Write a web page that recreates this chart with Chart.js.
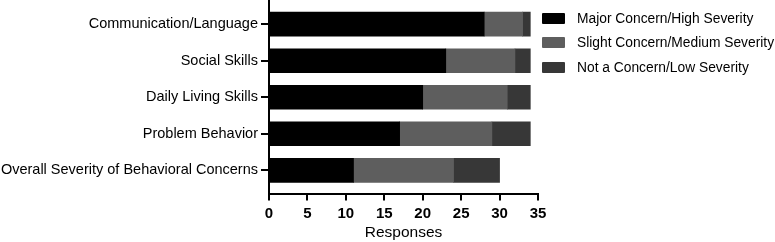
<!DOCTYPE html>
<html>
<head>
<meta charset="utf-8">
<script src="https://cdn.jsdelivr.net/npm/chart.js@4"></script>
<style>
  body { margin: 0; background: #fff; font-family: "Liberation Sans", Arial, sans-serif; }
  #wrap { position: relative; width: 775px; height: 242px; }
  #box { position: absolute; left: 0; top: 0; width: 560px; height: 242px; }
  #legend { position: absolute; left: 542px; top: 6px; }
  .item { display: flex; align-items: center; height: 24.5px; font-size: 13.8px; color: #000; white-space: nowrap; }
  .sw { width: 23px; height: 11px; margin-right: 12px; border-radius: 1px; }
</style>
</head>
<body>
<div id="wrap">
  <div id="box"><canvas id="chart"></canvas></div>
  <div id="legend"></div>
</div>
<script>
// categories, top to bottom
const categories = [
    'Communication/Language',
    'Social Skills',
    'Daily Living Skills',
    'Problem Behavior',
    'Overall Severity of Behavioral Concerns'
];
const seriesNames = ['Major Concern/High Severity', 'Slight Concern/Medium Severity', 'Not a Concern/Low Severity'];
const seriesColors = ['#000000', '#5e5e5e', '#373737'];

const majorHigh = [28, 23, 20, 17, 11];
const slightMedium = [5, 9, 11, 12, 13];
const notLow = [1, 2, 3, 5, 6];

const xTicks = [0, 5, 10, 15, 20, 25, 30, 35];

const allSeries = [majorHigh, slightMedium, notLow];

// html legend
const legendEl = document.getElementById('legend');
seriesNames.forEach(function(name, i) {
    const row = document.createElement('div');
    row.className = 'item';
    row.innerHTML = '<span class="sw" style="background:' + seriesColors[i] + '"></span>' + name;
    legendEl.appendChild(row);
});

const ctx = document.getElementById('chart').getContext('2d');
new Chart(ctx, {
    type: 'bar',
    data: {
        datasets: allSeries.map(function(vals, i) {
            return {
                label: seriesNames[i],
                data: vals.map(function(v, j) { return { x: v, y: j }; }),
                backgroundColor: seriesColors[i],
                borderWidth: 0,
                barThickness: 24
            };
        })
    },
    options: {
        indexAxis: 'y',
        responsive: true,
        maintainAspectRatio: false,
        animation: false,
        layout: { padding: { top: 0, right: 22, bottom: 0, left: 0 } },
        plugins: {
            legend: { display: false },
            tooltip: { enabled: false }
        },
        scales: {
            x: {
                type: 'linear',
                stacked: true,
                min: 0,
                max: 35,
                afterBuildTicks: function(scale) {
                    scale.ticks = xTicks.map(function(v) { return { value: v }; });
                },
                border: { color: '#000', width: 2 },
                grid: { drawOnChartArea: false, drawTicks: true, tickLength: 6, color: '#000', lineWidth: 2 },
                ticks: {
                    color: '#000',
                    padding: 4,
                    maxRotation: 0,
                    font: { family: 'Liberation Sans', size: 15, weight: 'bold' }
                },
                title: {
                    display: true,
                    text: 'Responses',
                    color: '#000',
                    padding: { top: 0, bottom: 2.5 },
                    font: { family: 'Liberation Sans', size: 15.5, lineHeight: 0.84 }
                }
            },
            y: {
                type: 'linear',
                stacked: true,
                reverse: true,
                offset: false,
                min: -0.662,
                max: categories.length - 1 + 0.662,
                afterBuildTicks: function(scale) {
                    scale.ticks = categories.map(function(c, i) { return { value: i }; });
                },
                afterFit: function(scale) {
                    // labels sit well inside the axis, no edge padding needed
                    scale.paddingTop = 0;
                    scale.paddingBottom = 0;
                },
                border: { color: '#000', width: 2 },
                grid: { offset: false, drawOnChartArea: false, drawTicks: true, tickLength: 8, color: '#000', lineWidth: 2 },
                ticks: {
                    color: '#000',
                    padding: 3,
                    font: { family: 'Liberation Sans', size: 14.5 },
                    callback: function(v) { return categories[v]; }
                }
            }
        }
    }
});
</script>
</body>
</html>
